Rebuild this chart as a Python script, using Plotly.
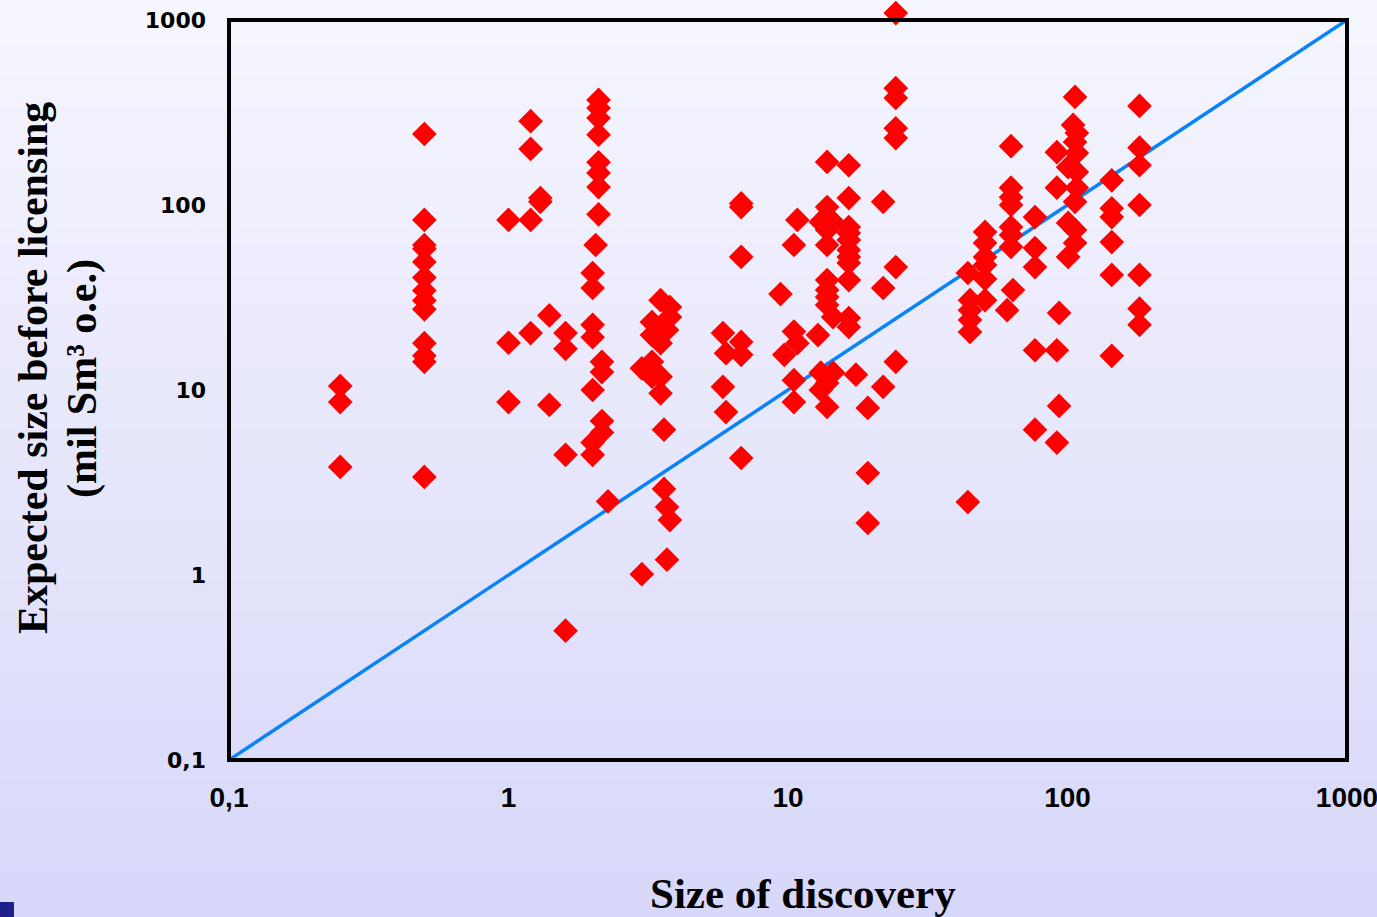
import plotly.graph_objects as go

# ---- data (size of discovery, expected size before licensing), mil Sm3 o.e.
x_025 = [0.25, 0.25, 0.25]
y_025 = [10.5, 8.6, 3.84]

x_05 = [0.5] * 13
y_05 = [242, 83, 60.8, 58, 49.2, 40.5, 34.5, 30.5, 27.3, 17.9, 15.3, 14.2, 3.39]

x_1 = [1.0, 1.0, 1.0, 1.2, 1.2, 1.2, 1.2, 1.3, 1.3, 1.4, 1.4, 1.6, 1.6, 1.6, 1.6]
y_1 = [83, 18.0, 8.6, 284, 201, 83, 20.3, 109, 104, 25.3, 8.3, 20.3, 16.7, 4.46, 0.5]

x_2 = [2.1, 2.1, 2.1, 2.1, 2.1, 2.1, 2.1, 2.1, 2.05,
       2.0, 2.0, 2.0, 2.0, 2.0, 2.0, 2.0,
       2.16, 2.16, 2.16, 2.16, 2.27]
y_2 = [370, 334, 295, 240, 170, 149, 125, 89, 60.8,
       42.9, 35.6, 22.5, 19.3, 10.0, 5.2, 4.46,
       14.2, 12.5, 6.8, 5.9, 2.5]

x_3 = [3.0, 3.0, 3.26, 3.26, 3.26, 3.26, 3.5, 3.5, 3.5, 3.5,
       3.78, 3.78, 3.69, 3.6, 3.6, 3.69, 3.78, 3.69]
y_3 = [1.01, 13.1, 23.3, 19.8, 14.2, 11.8, 30.6, 17.9, 11.8, 9.6,
       28.1, 24.8, 21.1, 6.1, 2.92, 2.33, 1.98, 1.21]

x_6 = [5.85, 5.85, 6.0, 6.0, 6.8, 6.8, 6.8, 6.8, 6.8, 6.8]
y_6 = [20.3, 10.4, 15.8, 7.6, 102, 97.5, 52.4, 18.2, 15.5, 4.29]

x_10 = [9.4, 9.7, 10.5, 10.5, 10.5, 10.5, 10.8, 10.8, 12.8,
        13.8, 13.8, 13.8, 13.8, 13.8, 13.8, 13.8, 13.8, 13.8, 13.8,
        13.1, 13.1, 13.1, 14.5, 14.5, 14.5,
        16.5, 16.5, 16.5, 16.5, 16.5, 16.5, 16.5, 16.5, 16.5, 16.5, 16.5,
        17.5, 19.3, 19.3, 19.3, 21.9, 21.9, 21.9,
        24.3, 24.3, 24.3, 24.3, 24.3, 24.3, 24.3]
y_10 = [33, 15.5, 60.8, 20.7, 11.3, 8.6, 83, 17.9, 19.8,
        171, 97.5, 73.3, 60.8, 39.3, 34.7, 31.8, 28.8, 10.9, 8.1,
        81, 12.4, 10.0, 81, 24.8, 12.4,
        164, 109, 76, 70.6, 64.7, 57.2, 52.4, 48.6, 39.3, 24.5, 21.9,
        12.1, 8.0, 3.56, 1.91, 104, 35.6, 10.4,
        1090, 428, 379, 260, 230, 46.2, 14.2]

x_50 = [44, 44, 44.8, 44.8, 44.8, 44.8,
        50.7, 50.7, 50.7, 50.7, 50.7, 50.7,
        60.8, 62.8, 62.8, 62.8, 62.8, 62.8, 62.8, 62.8, 63.8,
        76.5, 76.5, 76.5, 76.5, 76.5]
y_50 = [42.9, 2.48, 30.6, 27.0, 23.9, 20.6,
        71.5, 62.3, 52.4, 47.4, 39.8, 30.6,
        27.0, 208, 124, 110, 100, 76, 68.9, 59.3, 34.7,
        86, 58.5, 46.2, 16.4, 6.1]

x_100 = [91.6, 91.6, 91.6, 91.6, 93.3, 93.3,
         100.5, 100.5, 100.5, 104.7,
         106.4, 106.4, 106.4, 106.4, 106.4,
         108, 108, 108, 108,
         144, 144, 144, 144, 144, 144,
         181, 181, 181, 181, 181, 181, 181]
y_100 = [193, 124, 16.4, 5.2, 26.1, 8.2,
         160, 80, 52.4, 271,
         384, 219, 104, 73.3, 62.3,
         245, 191, 151, 124,
         136, 96, 86, 63, 41.9, 15.3,
         343, 204, 164, 100, 41.9, 27.5, 22.5]

x_vals = x_025 + x_05 + x_1 + x_2 + x_3 + x_6 + x_10 + x_50 + x_100
y_vals = y_025 + y_05 + y_1 + y_2 + y_3 + y_6 + y_10 + y_50 + y_100

line_x = [0.1, 1000]
line_y = [0.1, 1000]

tick_vals = [0.1, 1, 10, 100, 1000]
tick_text = ["0,1", "1", "10", "100", "1000"]

x_title = "Size of discovery"
y_title_1 = "Expected size before licensing"
y_title_2 = "(mil Sm³ o.e.)"

# ---- layout geometry
W, H = 1377, 917
L, R, T, B = 229, 30, 0, 157
frame_top_px = 20                     # frame top (value 1000) below figure top
pw, ph = W - L - R, H - T - B
frame_top = 1 - frame_top_px / ph      # paper y of the 1000 line
y_top_log = 3 + frame_top_px / ((ph - frame_top_px) / 4)


def px_x(px):
    return (px - L) / pw


def px_y(py):
    return (H - B - py) / ph


fig = go.Figure()
fig.add_trace(go.Scatter(x=line_x, y=line_y, mode="lines",
                         line=dict(color="#0A84F5", width=3.5),
                         hoverinfo="skip", showlegend=False))
fig.add_trace(go.Scatter(x=x_vals, y=y_vals, mode="markers",
                         marker=dict(symbol="diamond", size=19, color="#FF0000",
                                     line=dict(width=0)),
                         showlegend=False, cliponaxis=False))

# background vertical gradient built from bands
top_rgb = (246, 246, 254)
bot_rgb = (215, 215, 250)
n = 60
shapes = []
for i in range(n):
    y0px = H * i / n
    y1px = H * (i + 1) / n + 1
    t = (i + 0.5) / n
    c = tuple(round(top_rgb[k] + (bot_rgb[k] - top_rgb[k]) * t) for k in range(3))
    shapes.append(dict(type="rect", xref="paper", yref="paper", layer="below",
                       x0=px_x(0) - 0.01, x1=px_x(W) + 0.01,
                       y0=px_y(y1px), y1=px_y(y0px),
                       fillcolor="rgb(%d,%d,%d)" % c, line=dict(width=0)))
# small navy square at bottom-left corner
shapes.append(dict(type="rect", xref="paper", yref="paper", layer="above",
                   x0=px_x(0), x1=px_x(14), y0=px_y(917), y1=px_y(902),
                   fillcolor="#1F1F8C", line=dict(width=0)))
# frame
shapes.append(dict(type="rect", xref="paper", yref="paper", layer="above",
                   x0=0, x1=1, y0=0, y1=frame_top,
                   line=dict(color="black", width=4)))

title_font = dict(family="Liberation Serif, Times New Roman, serif",
                  size=42, color="black", weight="bold")
annotations = [
    dict(text=x_title, xref="paper", yref="paper", x=px_x(803), y=px_y(893),
         xanchor="center", yanchor="middle", showarrow=False,
         font=dict(title_font, size=43)),
    dict(text=y_title_1, xref="paper", yref="paper", x=px_x(33), y=px_y(368),
         xanchor="center", yanchor="middle", showarrow=False, textangle=-90,
         font=title_font),
    dict(text=y_title_2, xref="paper", yref="paper", x=px_x(82), y=px_y(379),
         xanchor="center", yanchor="middle", showarrow=False, textangle=-90,
         font=title_font),
]

fig.update_layout(
    width=W, height=H,
    margin=dict(l=L, r=R, t=T, b=B, pad=0),
    paper_bgcolor="rgba(0,0,0,0)", plot_bgcolor="rgba(0,0,0,0)",
    shapes=shapes,
    annotations=annotations,
    showlegend=False,
    xaxis=dict(type="log", range=[-1, 3], tickvals=tick_vals, ticktext=tick_text,
               showgrid=False, zeroline=False, ticks="", ticklabelstandoff=18,
               ticklabeloverflow="allow",
               tickfont=dict(family="Liberation Sans, Arial, sans-serif",
                             size=28, color="black", weight="bold")),
    yaxis=dict(type="log", range=[-1, y_top_log], tickvals=tick_vals, ticktext=tick_text,
               showgrid=False, zeroline=False, ticks="", ticklabelstandoff=22,
               ticklabeloverflow="allow",
               tickfont=dict(family="DejaVu Sans, sans-serif", size=22,
                             color="black", weight="bold")),
)
fig.write_html("out.html", config={"displayModeBar": False},
               post_script="document.body.style.margin='0';")
